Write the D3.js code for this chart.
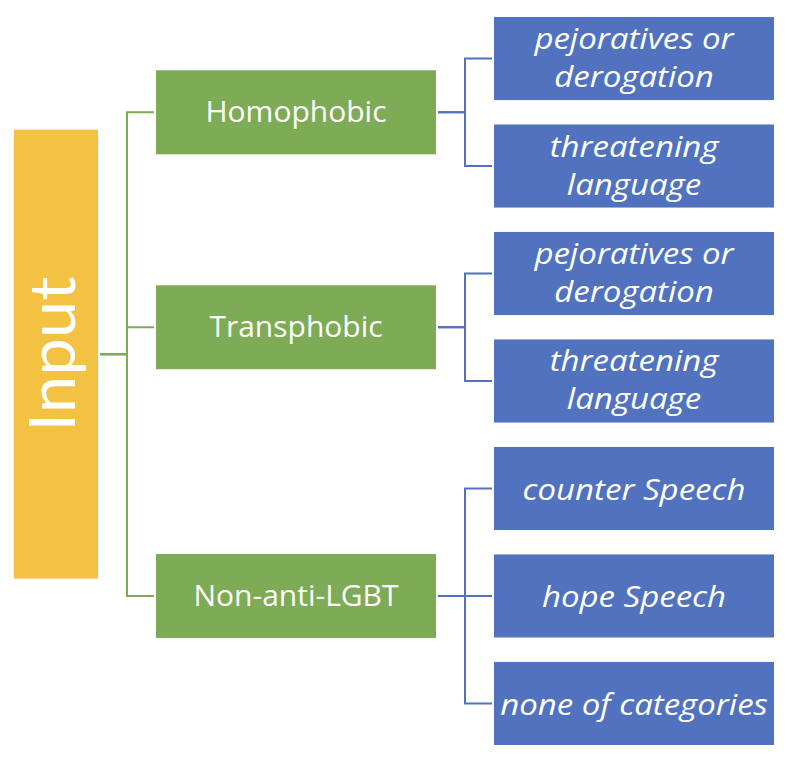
<!DOCTYPE html>
<html>
<head>
<meta charset="utf-8">
<script src="https://cdn.jsdelivr.net/npm/d3@7"></script>
<style>
  body { margin: 0; background: #fff; }
  text { font-family: "Open Sans", Lato, sans-serif; fill: #fff; }
</style>
</head>
<body>
<div id="chart"></div>
<script>
// tree content
var rootLabel = "Input";
var categories = ["Homophobic", "Transphobic", "Non-anti-LGBT"];
var subcategories = [
    ["pejoratives or|derogation", "threatening|language"],
    ["pejoratives or|derogation", "threatening|language"],
    ["counter Speech", "hope Speech", "none of categories"]
];

var W = 792, H = 762;
var yellow = "#f4c242", green = "#7eab55", blue = "#5172be";

var svg = d3.select("#chart").append("svg")
    .attr("width", W)
    .attr("height", H);

// one row per leaf
var leaves = [];
subcategories.forEach(function (subs, i) {
    subs.forEach(function (s, j) {
        leaves.push({cat: i, label: s, key: i + "-" + j});
    });
});

var y = d3.scaleBand()
    .domain(leaves.map(function (d) { return d.key; }))
    .range([17, 745])
    .paddingInner(0.227)
    .paddingOuter(0);

var leafH = y.bandwidth();
var centre = function (d) { return y(d.key) + leafH / 2; };

var cats = categories.map(function (c, i) {
    var ext = d3.extent(leaves.filter(function (d) { return d.cat === i; }), centre);
    return {label: c, cy: (ext[0] + ext[1]) / 2};
});
var rootExt = d3.extent(cats, function (d) { return d.cy; });
var rootY = (rootExt[0] + rootExt[1]) / 2;

// columns
var x = {rootL: 14, rootR: 98, spine1: 127, catL: 156, catR: 436, spine2: 465, leafL: 494, leafR: 774};
var catH = 84, rootH = 449;

var elbow = function (x0, y0, xm, x1, y1) {
    return "M" + x0 + "," + y0 + "H" + xm + "V" + y1 + "H" + x1;
};

// links root -> categories
svg.append("g").selectAll("path").data(cats).enter().append("path")
    .attr("d", function (d) { return elbow(x.rootR + 2, rootY, x.spine1, x.catL - 2, d.cy); })
    .style("fill", "none")
    .style("stroke", green)
    .style("stroke-width", 2);

// links categories -> leaves
svg.append("g").selectAll("path").data(leaves).enter().append("path")
    .attr("d", function (d) { return elbow(x.catR + 2, cats[d.cat].cy, x.spine2, x.leafL - 2, centre(d)); })
    .style("fill", "none")
    .style("stroke", blue)
    .style("stroke-width", 2);

// root box
svg.append("rect")
    .attr("x", x.rootL).attr("y", rootY - rootH / 2)
    .attr("width", x.rootR - x.rootL).attr("height", rootH)
    .style("fill", yellow);

svg.append("text")
    .attr("transform", "translate(" + 75 + "," + rootY + ") rotate(-90) scale(1.05,1)")
    .attr("text-anchor", "middle")
    .style("font-family", "Lato, sans-serif")
    .style("font-size", "64px")
    .style("font-weight", 400)
    .text(rootLabel);

// category boxes
var cg = svg.append("g").selectAll("g").data(cats).enter().append("g");
cg.append("rect")
    .attr("x", x.catL).attr("y", function (d) { return d.cy - catH / 2; })
    .attr("width", x.catR - x.catL).attr("height", catH)
    .style("fill", green);
cg.append("text")
    .attr("x", (x.catL + x.catR) / 2)
    .attr("y", function (d) { return d.cy + 10; })
    .attr("text-anchor", "middle")
    .style("font-size", "30px")
    .text(function (d) { return d.label; });

// leaf boxes
var lg = svg.append("g").selectAll("g").data(leaves).enter().append("g");
lg.append("rect")
    .attr("x", x.leafL).attr("y", function (d) { return y(d.key); })
    .attr("width", x.leafR - x.leafL).attr("height", leafH)
    .style("fill", blue);
lg.each(function (d) {
    var lines = d.label.split("|");
    var n = lines.length;
    var t = d3.select(this).append("text")
        .attr("transform", "translate(" + (x.leafL + x.leafR) / 2 + ",0) scale(1.1,1)")
        .attr("text-anchor", "middle")
        .style("font-size", "30px")
        .style("font-style", "italic");
    lines.forEach(function (l, k) {
        t.append("tspan")
            .attr("x", 0)
            .attr("y", centre(d) + 11.5 + (k - (n - 1) / 2) * 38 - (n - 1) * 2)
            .text(l);
    });
});
</script>
</body>
</html>
